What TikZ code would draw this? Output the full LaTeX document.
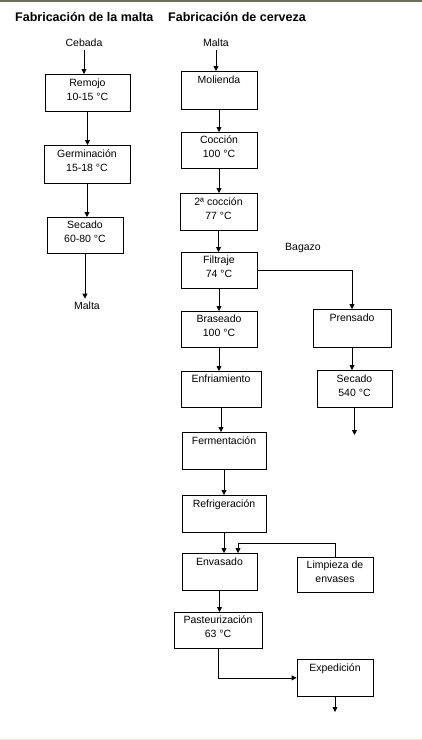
\documentclass[tikz,border=0pt]{standalone}
\usepackage{fontspec}
\setmainfont{Liberation Sans}
\usetikzlibrary{arrows.meta}

\definecolor{filete}{RGB}{108,108,92}
\definecolor{pie}{RGB}{236,233,216}

\begin{document}
\begin{tikzpicture}[x=1pt, y=-1pt,
  etapa/.style={draw, line width=0.8pt, anchor=north, minimum height=37pt,
    inner ysep=4pt, text height=21.5pt, text depth=6.5pt,
    align=center, font=\fontsize{10.5}{14}\selectfont},
  una/.style={text height=7.5pt, text depth=20.5pt},
  rotulo/.style={font=\fontsize{10.5}{14}\selectfont},
  titulo/.style={anchor=base west, inner sep=0pt,
    font=\fontsize{12.5}{15}\selectfont\bfseries},
  flecha/.style={-{Triangle[length=5pt,width=5pt]}, line width=0.8pt}
]
  \useasboundingbox (0,0) rectangle (422,740);
  \draw[filete, line width=1.5pt] (0,0.75) -- (422,0.75);
  \draw[pie, line width=1pt] (0,739) -- (422,739);

  % Titles
  \node[titulo] (tmalta) at (15,21) {Fabricación de la malta};
  \node[titulo] (tcerveza) at (168,21) {Fabricación de cerveza};

  % Labels
  \node[rotulo] (cebada) at (84,43) {Cebada};
  \node[rotulo] (maltain) at (216,43) {Malta};
  \node[rotulo] (maltaout) at (87,306) {Malta};
  \node[rotulo] (bagazo) at (303,248) {Bagazo};

  % Blocks: malta
  \node[etapa, minimum width=85pt] (remojo) at (87.5,74) {Remojo\\10-15 °C};
  \node[etapa, minimum width=86pt, minimum height=38pt] (germinacion) at (87,145) {Germinación\\15-18 °C};
  \node[etapa, minimum width=76pt, minimum height=36pt] (secado) at (85,217) {Secado\\60-80 °C};

  % Blocks: cerveza
  \node[etapa, una, minimum width=76pt, minimum height=38pt] (molienda) at (219,71) {Molienda};
  \node[etapa, minimum width=76pt, minimum height=36pt] (coccion) at (219,132) {Cocción\\100 °C};
  \node[etapa, minimum width=77pt] (coccion2) at (218.5,193) {2ª cocción\\77 °C};
  \node[etapa, minimum width=76pt, minimum height=36pt] (filtraje) at (219,252) {Filtraje\\74 °C};
  \node[etapa, minimum width=76pt, minimum height=36pt] (braseado) at (219,311) {Braseado\\100 °C};
  \node[etapa, una, minimum width=78pt, minimum height=38pt] (prensado) at (352,309) {Prensado};
  \node[etapa, minimum width=75pt] (secado2) at (354.5,370) {Secado\\540 °C};
  \node[etapa, una, minimum width=80pt, minimum height=36pt] (enfriamiento) at (221,371) {Enfriamiento};
  \node[etapa, una, minimum width=84pt] (fermentacion) at (224,432) {Fermentación};
  \node[etapa, una, minimum width=84pt] (refrigeracion) at (224,495) {Refrigeración};
  \node[etapa, una, minimum width=75pt] (envasado) at (219.5,553) {Envasado};
  \node[etapa, minimum width=76pt, minimum height=35pt, text depth=5.5pt] (limpieza) at (335,557) {Limpieza de\\envases};
  \node[etapa, minimum width=88pt, minimum height=36pt] (pasteur) at (218,612) {Pasteurización\\63 °C};
  \node[etapa, una, minimum width=76pt] (expedicion) at (335,659) {Expedición};

  \coordinate (finbagazo) at (351,435);
  \coordinate (retorno) at (238,543);
  \coordinate (salida) at (334,712);

  % Arrows
  \draw[flecha] (cebada) -- (cebada |- remojo.north);
  \draw[flecha] (remojo) -- (remojo |- germinacion.north);
  \draw[flecha] (germinacion) -- (germinacion |- secado.north);
  \draw[flecha] (secado) -- (secado |- maltaout.north);
  \draw[flecha] (maltain) -- (maltain |- molienda.north);
  \draw[flecha] (molienda) -- (molienda |- coccion.north);
  \draw[flecha] (coccion) -- (coccion |- coccion2.north);
  \draw[flecha] (coccion2) -- (coccion2 |- filtraje.north);
  \draw[flecha] (filtraje) -- (filtraje |- braseado.north);
  \draw[flecha] (filtraje) -| (prensado);
  \draw[flecha] (prensado) -- (prensado |- secado2.north);
  \draw[flecha] (secado2) -- (secado2 |- finbagazo);
  \draw[flecha] (braseado) -- (braseado |- enfriamiento.north);
  \draw[flecha] (enfriamiento) -- (enfriamiento |- fermentacion.north);
  \draw[flecha] (fermentacion) -- (fermentacion |- refrigeracion.north);
  \draw[flecha] (refrigeracion) -- (refrigeracion |- envasado.north);
  \draw[flecha] (limpieza.north) |- (retorno) -- (retorno |- envasado.north);
  \draw[flecha] (envasado) -- (envasado |- pasteur.north);
  \draw[flecha] (pasteur) |- (expedicion);
  \draw[flecha] (expedicion) -- (expedicion |- salida);
\end{tikzpicture}
\end{document}
